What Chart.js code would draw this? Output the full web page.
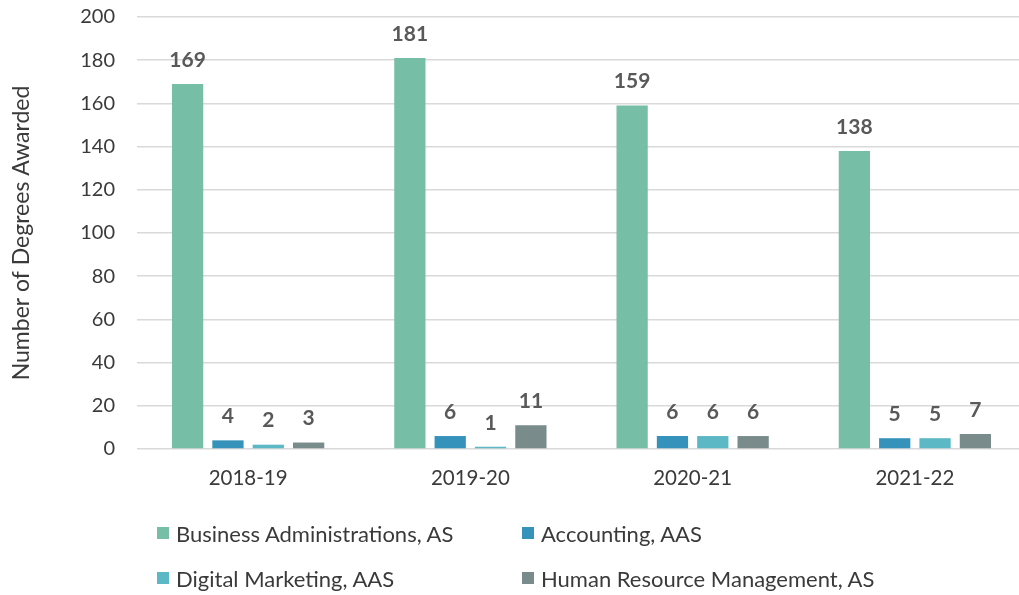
<!DOCTYPE html>
<html>
<head>
<meta charset="utf-8">
<script src="https://cdn.jsdelivr.net/npm/chart.js@4/dist/chart.umd.min.js"></script>
<style>
  html, body { margin: 0; padding: 0; background: #ffffff; overflow: hidden; }
  #wrap { position: relative; width: 1019px; height: 595px; overflow: hidden; }
  #c { position: absolute; left: 0; top: -17px; }
  .lg { position: absolute; display: flex; align-items: center; font-family: Lato, "Open Sans", sans-serif; font-size: 22px; color: #3a3a3a; white-space: nowrap; }
  .lg .box { width: 12px; height: 12px; margin-right: 7px; }
</style>
</head>
<body>
<div id="wrap">
  <canvas id="c" width="1026" height="612"></canvas>
</div>
<script>
const categories = ["2018-19", "2019-20", "2020-21", "2021-22"];
const seriesNames = ["Business Administrations, AS", "Accounting, AAS", "Digital Marketing, AAS", "Human Resource Management, AS"];
const businessAdmin = [169, 181, 159, 138];
const accounting = [4, 6, 6, 5];
const digitalMarketing = [2, 1, 6, 5];
const hrManagement = [3, 11, 6, 7];
const yTicks = [0, 20, 40, 60, 80, 100, 120, 140, 160, 180, 200];
const colors = ["#76bea6", "#3592ba", "#5bb8c4", "#7a8b8c"];

const FONT = "Lato, 'Open Sans', sans-serif";
const allSeries = [businessAdmin, accounting, digitalMarketing, hrManagement];

const valueLabels = {
  id: 'valueLabels',
  afterDatasetsDraw(chart) {
    const ctx = chart.ctx;
    ctx.save();
    ctx.font = "bold 21px " + FONT;
    ctx.fillStyle = "#595959";
    ctx.textAlign = "center";
    ctx.textBaseline = "middle";
    chart.data.datasets.forEach((ds, i) => {
      const meta = chart.getDatasetMeta(i);
      meta.data.forEach((bar, j) => {
        ctx.fillText(String(ds.data[j]), bar.x, bar.y - 24);
      });
    });
    ctx.restore();
  }
};

new Chart(document.getElementById('c'), {
  type: 'bar',
  data: {
    labels: categories,
    datasets: allSeries.map((d, i) => ({
      label: seriesNames[i],
      data: d,
      backgroundColor: colors[i],
      borderWidth: 0,
      categoryPercentage: 0.726,
      barPercentage: 0.775
    }))
  },
  options: {
    responsive: false,
    animation: false,
    layout: { padding: { left: 0, right: 0, top: 0, bottom: 0 } },
    plugins: { legend: { display: false }, tooltip: { enabled: false } },
    scales: {
      x: {
        grid: { display: false, drawTicks: false },
        border: { display: false },
        ticks: { font: { family: FONT, size: 20.5 }, color: '#3a3a3a', padding: 17 },
        afterFit(s) { s.height = 146; }
      },
      y: {
        min: 0, max: 200,
        afterBuildTicks(s) { s.ticks = yTicks.map(v => ({ value: v })); },
        grid: { color: '#d9d9d9', lineWidth: 1.5, drawTicks: false },
        border: { display: false },
        ticks: { font: { family: FONT, size: 20 }, color: '#3a3a3a', padding: 22 },
        title: { display: true, text: 'Number of Degrees Awarded', font: { family: FONT, size: 23 }, color: '#3a3a3a', padding: { top: 8, bottom: 0 } },
        afterFit(s) { s.width = 137; }
      }
    }
  },
  plugins: [valueLabels]
});

// HTML legend (two columns, two rows)
const legendPos = [[157, 533], [522, 533], [157, 578], [522, 578]];
const wrap = document.getElementById('wrap');
seriesNames.forEach((name, i) => {
  const el = document.createElement('div');
  el.className = 'lg';
  el.style.left = legendPos[i][0] + 'px';
  el.style.top = (legendPos[i][1] - 14) + 'px';
  el.style.height = '28px';
  const b = document.createElement('span');
  b.className = 'box';
  b.style.background = colors[i];
  const t = document.createElement('span');
  t.textContent = name;
  el.appendChild(b);
  el.appendChild(t);
  wrap.appendChild(el);
});
</script>
</body>
</html>
